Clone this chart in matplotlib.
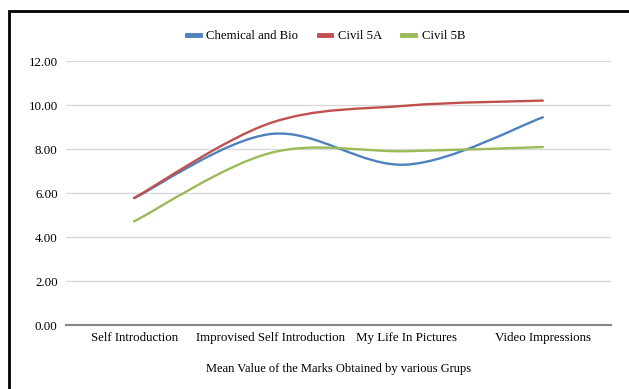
import numpy as np
import matplotlib
matplotlib.use("Agg")
import matplotlib.pyplot as plt
from matplotlib.path import Path
from matplotlib.patches import PathPatch, Rectangle
from matplotlib.lines import Line2D

# data
categories = ["Self Introduction", "Improvised Self Introduction", "My Life In Pictures", "Video Impressions"]
chem_bio = [5.77, 8.68, 7.29, 9.44]
civil_5a = [5.77, 9.18, 9.97, 10.20]
civil_5b = [4.71, 7.82, 7.90, 8.09]

series = [("Chemical and Bio", chem_bio, "#4F81BD"),
          ("Civil 5A", civil_5a, "#C0504D"),
          ("Civil 5B", civil_5b, "#9BBB59")]

plt.rcParams['font.family'] = ['Liberation Serif', 'DejaVu Serif']

fig = plt.figure(figsize=(6.29, 3.89), dpi=100)
W, H = 629, 389
ax = fig.add_axes([66 / W, 1 - 325 / H, (611 - 66) / W, (325 - 61) / H])

# document frame around the chart
fig.patches.append(Rectangle((9 / W, -0.1), 1.2, 1 - 11 / H + 0.1, transform=fig.transFigure,
                             fill=False, edgecolor="black", linewidth=2))


def smooth_path(xs, ys):
    # excel style smoothed line: bezier segments through each point
    pts = np.column_stack([xs, ys]).astype(float)
    verts = [pts[0]]
    codes = [Path.MOVETO]
    n = len(pts)
    for i in range(n - 1):
        p0 = pts[i - 1] if i > 0 else pts[i]
        p1, p2 = pts[i], pts[i + 1]
        p3 = pts[i + 2] if i + 2 < n else pts[i + 1]
        c1 = p1 + (p2 - p0) / 6
        c2 = p2 - (p3 - p1) / 6
        verts += [c1, c2, p2]
        codes += [Path.CURVE4] * 3
    return Path(verts, codes)


x = np.arange(len(categories))
handles = []
for name, vals, col in series:
    ax.add_patch(PathPatch(smooth_path(x, vals), facecolor="none", edgecolor=col,
                           linewidth=1.7, capstyle="round", zorder=3))
    handles.append(Line2D([0], [0], color=col, linewidth=3.5))

ax.set_xlim(-0.5, 3.5)
ax.set_ylim(0, 12)
ax.set_yticks(np.arange(0, 13, 2))
ax.set_yticklabels([f"{v:.2f}" for v in np.arange(0, 13, 2)])
ax.set_xticks(x)
ax.set_xticklabels(categories)
ax.tick_params(length=0, labelsize=9.3, pad=5)
ax.tick_params(axis="y", pad=6)
ax.grid(axis="y", color="#D9D9D9", linewidth=1)
ax.set_axisbelow(True)
for s in ["top", "right", "left"]:
    ax.spines[s].set_visible(False)
ax.spines["bottom"].set_color("#868686")
ax.spines["bottom"].set_linewidth(1.5)
ax.set_xlabel("Mean Value of the Marks Obtained by various Grups", fontsize=9, labelpad=14)

fig.legend(handles, [s[0] for s in series], loc="center", bbox_to_anchor=(326 / W, 1 - 36 / H),
           ncol=3, frameon=False, fontsize=9.2, handlelength=1.0, columnspacing=1.6, handletextpad=0.5)

fig.savefig("out.png", dpi=100)
